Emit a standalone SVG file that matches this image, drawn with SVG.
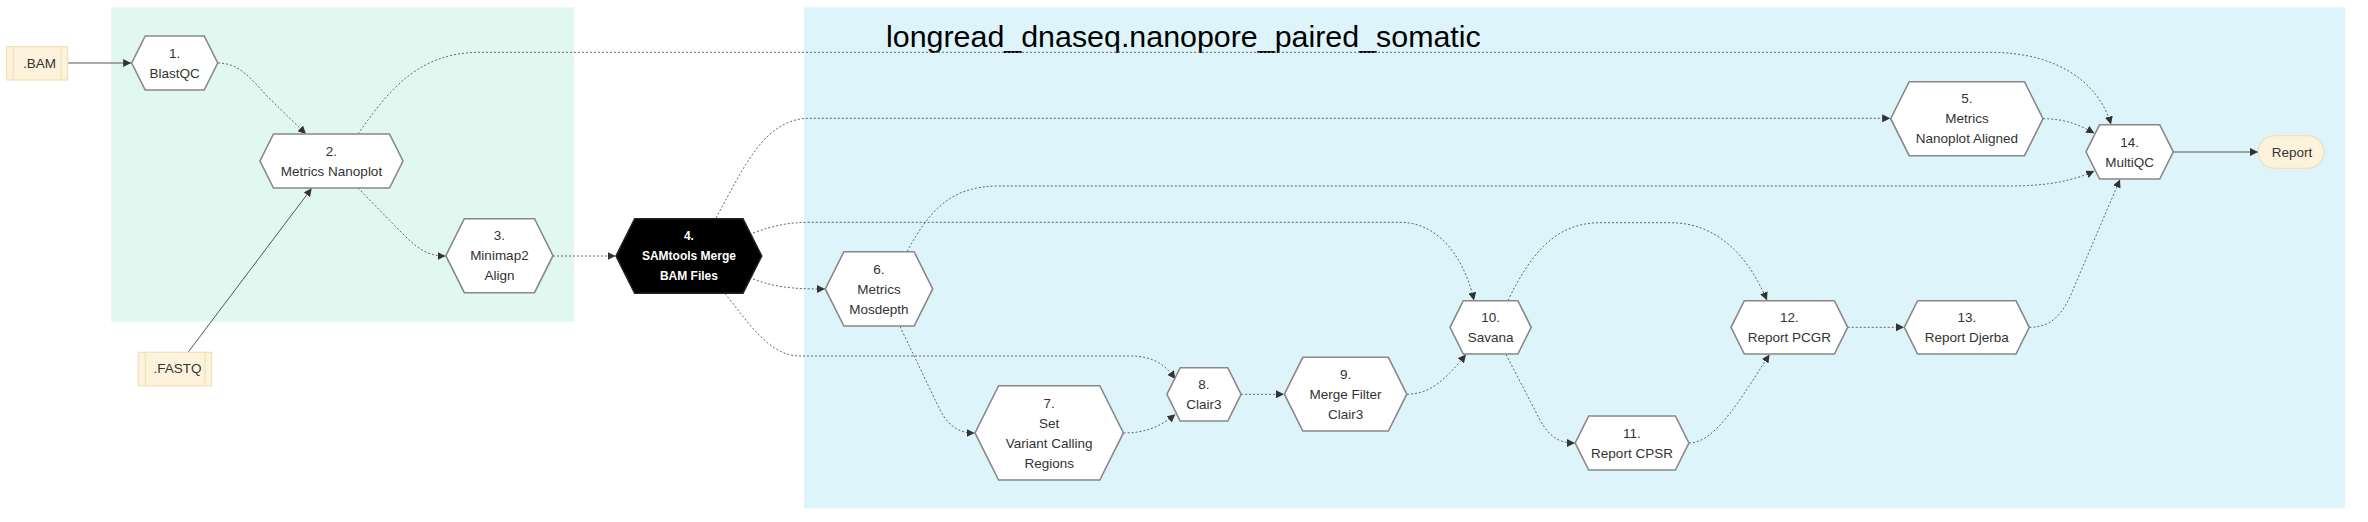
<svg xmlns="http://www.w3.org/2000/svg" width="2368" height="522" viewBox="0 0 2368 522">
<style>
.bg{fill:#ffffff}
.green{fill:#e1f8f0;stroke:none}
.blue{fill:#ddf4fa;stroke:none}
.hex{fill:#ffffff;stroke:#888888;stroke-width:1.6}
.hexb{fill:#000000;stroke:#222222;stroke-width:1.6}
.io{fill:#fdf3dd;stroke:#f0e2b6;stroke-width:1.2}
.lbl{font-family:"Trebuchet MS","Liberation Sans",Arial,sans-serif;font-size:13.5px;fill:#333333;text-anchor:middle}
.lblw{font-family:"Trebuchet MS","Liberation Sans",Arial,sans-serif;font-size:12px;font-weight:bold;fill:#ffffff;text-anchor:middle}
.title{font-family:"Liberation Sans",Arial,sans-serif;font-size:30.4px;fill:#000000}
.dot{fill:none;stroke:#666666;stroke-width:1;stroke-dasharray:2 2}
.sol{fill:none;stroke:#555555;stroke-width:1}
</style>
<defs>
<marker id="arr" viewBox="0 0 10 10" refX="10" refY="5" markerWidth="8" markerHeight="8" markerUnits="userSpaceOnUse" orient="auto">
<path d="M0,0 L10,5 L0,10 z" fill="#333333"/>
</marker>
</defs>
<rect class="bg" x="0" y="0" width="2368" height="522"/>
<g id="clusters">
<rect class="green" x="111" y="7.3" width="463" height="314.4"/>
<rect class="blue" x="804" y="7.3" width="1541" height="501"/>
<text class="title" x="886" y="47">longread_dnaseq.nanopore_paired_somatic</text>
</g>
<g id="edges">
<path class="sol" d="M67.7,63 L131.2,63" marker-end="url(#arr)"/>
<path class="dot" d="M218,63 C240,63 252,80 268,97 L306,134" marker-end="url(#arr)"/>
<path class="sol" d="M188.3,352 L311.7,188.3" marker-end="url(#arr)"/>
<path class="dot" d="M358,188 L405,236 C420,251 430,256 445.5,256" marker-end="url(#arr)"/>
<path class="dot" d="M358,134 C390,88 420,52.3 480,52.3 L1990,52.3 C2060,52.3 2100,85 2111,124.5" marker-end="url(#arr)"/>
<path class="dot" d="M553,256 L615.5,256" marker-end="url(#arr)"/>
<path class="dot" d="M716,218 C745,165 765,118.3 810,118.3 L1890.2,118.3" marker-end="url(#arr)"/>
<path class="dot" d="M753,279 C775,287 790,289 825,289" marker-end="url(#arr)"/>
<path class="dot" d="M753,233 C775,225 790,222.3 810,222.3 L1400,222.3 C1440,222.3 1465,260 1474,300.5" marker-end="url(#arr)"/>
<path class="dot" d="M725,293.5 C750,325 770,356 800,356 L1130,356 C1155,356 1166,366 1175.3,379" marker-end="url(#arr)"/>
<path class="dot" d="M907,251.5 C930,210 950,186 1000,186 L2010,186 C2050,186 2075,180 2094.3,171" marker-end="url(#arr)"/>
<path class="dot" d="M900,326.5 L940,410 C950,428 960,433 974.7,433" marker-end="url(#arr)"/>
<path class="dot" d="M1123.4,433 C1145,433 1160,427 1175.3,414.3" marker-end="url(#arr)"/>
<path class="dot" d="M1241.1,394.3 L1284,394.3" marker-end="url(#arr)"/>
<path class="dot" d="M1407,394.2 C1430,394.2 1445,380 1466,354.5" marker-end="url(#arr)"/>
<path class="dot" d="M1506,354.5 L1540,420 C1550,438 1560,443 1574.9,443" marker-end="url(#arr)"/>
<path class="dot" d="M1508,300.5 C1530,255 1555,222.7 1600,222.7 L1670,222.7 C1720,222.7 1750,260 1767,300.3" marker-end="url(#arr)"/>
<path class="dot" d="M1689,443 C1715,443 1740,400 1769.5,354.5" marker-end="url(#arr)"/>
<path class="dot" d="M1847.7,327.3 L1904,327.3" marker-end="url(#arr)"/>
<path class="dot" d="M2043,118.7 C2065,118.7 2080,125 2094.3,133.3" marker-end="url(#arr)"/>
<path class="dot" d="M2029.3,327.3 C2055,327.3 2065,310 2075,285 L2120,179.5" marker-end="url(#arr)"/>
<path class="sol" d="M2173.3,152 L2258,152" marker-end="url(#arr)"/>
</g>
<g id="bam">
<rect class="io" x="6.7" y="46.7" width="61" height="33.3"/>
<line class="io" x1="13.3" y1="46.7" x2="13.3" y2="80"/>
<line class="io" x1="61.2" y1="46.7" x2="61.2" y2="80"/>
<text class="lbl" x="39.5" y="63" dy="0.35em">.BAM</text>
</g>
<g id="fastq">
<rect class="io" x="138.3" y="352.3" width="73.4" height="33.4"/>
<line class="io" x1="145.3" y1="352.3" x2="145.3" y2="385.7"/>
<line class="io" x1="204.9" y1="352.3" x2="204.9" y2="385.7"/>
<text class="lbl" x="177.5" y="368.5" dy="0.35em">.FASTQ</text>
</g>
<g id="n1">
<polygon class="hex" points="145.2,36 204.2,36 217.7,63 204.2,90 145.2,90 131.7,63"/>
<text class="lbl" x="174.7" y="53" dy="0.35em">1.</text>
<text class="lbl" x="174.7" y="73" dy="0.35em">BlastQC</text>
</g>
<g id="n2">
<polygon class="hex" points="273.5,134 389.5,134 403,161 389.5,188 273.5,188 260,161"/>
<text class="lbl" x="331.5" y="151.5" dy="0.35em">2.</text>
<text class="lbl" x="331.5" y="171" dy="0.35em">Metrics Nanoplot</text>
</g>
<g id="n3">
<polygon class="hex" points="464.3,218.7 534.5,218.7 553,255.7 534.5,292.7 464.3,292.7 445.8,255.7"/>
<text class="lbl" x="499.4" y="235.7" dy="0.35em">3.</text>
<text class="lbl" x="499.4" y="255.7" dy="0.35em">Minimap2</text>
<text class="lbl" x="499.4" y="275.7" dy="0.35em">Align</text>
</g>
<g id="n4">
<polygon class="hexb" points="634.7,218.7 743,218.7 761.7,256 743,293.3 634.7,293.3 616,256"/>
<text class="lblw" x="688.9" y="236" dy="0.35em">4.</text>
<text class="lblw" x="688.9" y="256" dy="0.35em">SAMtools Merge</text>
<text class="lblw" x="688.9" y="276" dy="0.35em">BAM Files</text>
</g>
<g id="n5">
<polygon class="hex" points="1909.2,81.7 2024.5,81.7 2043,118.7 2024.5,155.7 1909.2,155.7 1890.7,118.7"/>
<text class="lbl" x="1966.9" y="98.7" dy="0.35em">5.</text>
<text class="lbl" x="1966.9" y="118.7" dy="0.35em">Metrics</text>
<text class="lbl" x="1966.9" y="138.7" dy="0.35em">Nanoplot Aligned</text>
</g>
<g id="n6">
<polygon class="hex" points="843.9,251.7 914.1,251.7 932.7,288.9 914.1,326 843.9,326 825.3,288.9"/>
<text class="lbl" x="879" y="268.9" dy="0.35em">6.</text>
<text class="lbl" x="879" y="288.9" dy="0.35em">Metrics</text>
<text class="lbl" x="879" y="308.9" dy="0.35em">Mosdepth</text>
</g>
<g id="n7">
<polygon class="hex" points="998.6,385.7 1099.8,385.7 1123.4,432.9 1099.8,480 998.6,480 975,432.9"/>
<text class="lbl" x="1049.2" y="402.9" dy="0.35em">7.</text>
<text class="lbl" x="1049.2" y="422.9" dy="0.35em">Set</text>
<text class="lbl" x="1049.2" y="442.9" dy="0.35em">Variant Calling</text>
<text class="lbl" x="1049.2" y="462.9" dy="0.35em">Regions</text>
</g>
<g id="n8">
<polygon class="hex" points="1180.2,367.7 1227.8,367.7 1241.1,394.3 1227.8,421 1180.2,421 1166.9,394.3"/>
<text class="lbl" x="1204" y="384.3" dy="0.35em">8.</text>
<text class="lbl" x="1204" y="404.3" dy="0.35em">Clair3</text>
</g>
<g id="n9">
<polygon class="hex" points="1302.8,357.3 1388.4,357.3 1406.8,394.2 1388.4,431 1302.8,431 1284.4,394.2"/>
<text class="lbl" x="1345.6" y="374.2" dy="0.35em">9.</text>
<text class="lbl" x="1345.6" y="394.2" dy="0.35em">Merge Filter</text>
<text class="lbl" x="1345.6" y="414.2" dy="0.35em">Clair3</text>
</g>
<g id="n10">
<polygon class="hex" points="1463.3,300.7 1517.9,300.7 1531.2,327.3 1517.9,354 1463.3,354 1450,327.3"/>
<text class="lbl" x="1490.6" y="317.3" dy="0.35em">10.</text>
<text class="lbl" x="1490.6" y="337.3" dy="0.35em">Savana</text>
</g>
<g id="n11">
<polygon class="hex" points="1588.7,416 1675.4,416 1688.9,443 1675.4,470 1588.7,470 1575.2,443"/>
<text class="lbl" x="1632" y="433" dy="0.35em">11.</text>
<text class="lbl" x="1632" y="453" dy="0.35em">Report CPSR</text>
</g>
<g id="n12">
<polygon class="hex" points="1744.3,300.7 1834.4,300.7 1847.7,327.3 1834.4,354 1744.3,354 1731,327.3"/>
<text class="lbl" x="1789.3" y="317.3" dy="0.35em">12.</text>
<text class="lbl" x="1789.3" y="337.3" dy="0.35em">Report PCGR</text>
</g>
<g id="n13">
<polygon class="hex" points="1917.6,300.7 2016,300.7 2029.3,327.3 2016,354 1917.6,354 1904.3,327.3"/>
<text class="lbl" x="1966.8" y="317.3" dy="0.35em">13.</text>
<text class="lbl" x="1966.8" y="337.3" dy="0.35em">Report Djerba</text>
</g>
<g id="n14">
<polygon class="hex" points="2099.6,124.7 2159.7,124.7 2173.3,151.8 2159.7,179 2099.6,179 2086,151.8"/>
<text class="lbl" x="2129.6" y="141.8" dy="0.35em">14.</text>
<text class="lbl" x="2129.6" y="161.8" dy="0.35em">MultiQC</text>
</g>
<g id="report">
<rect class="io" x="2258.3" y="135.7" width="65.7" height="32.6" rx="16.3" ry="16.3"/>
<text class="lbl" x="2292" y="152" dy="0.35em">Report</text>
</g>
</svg>
